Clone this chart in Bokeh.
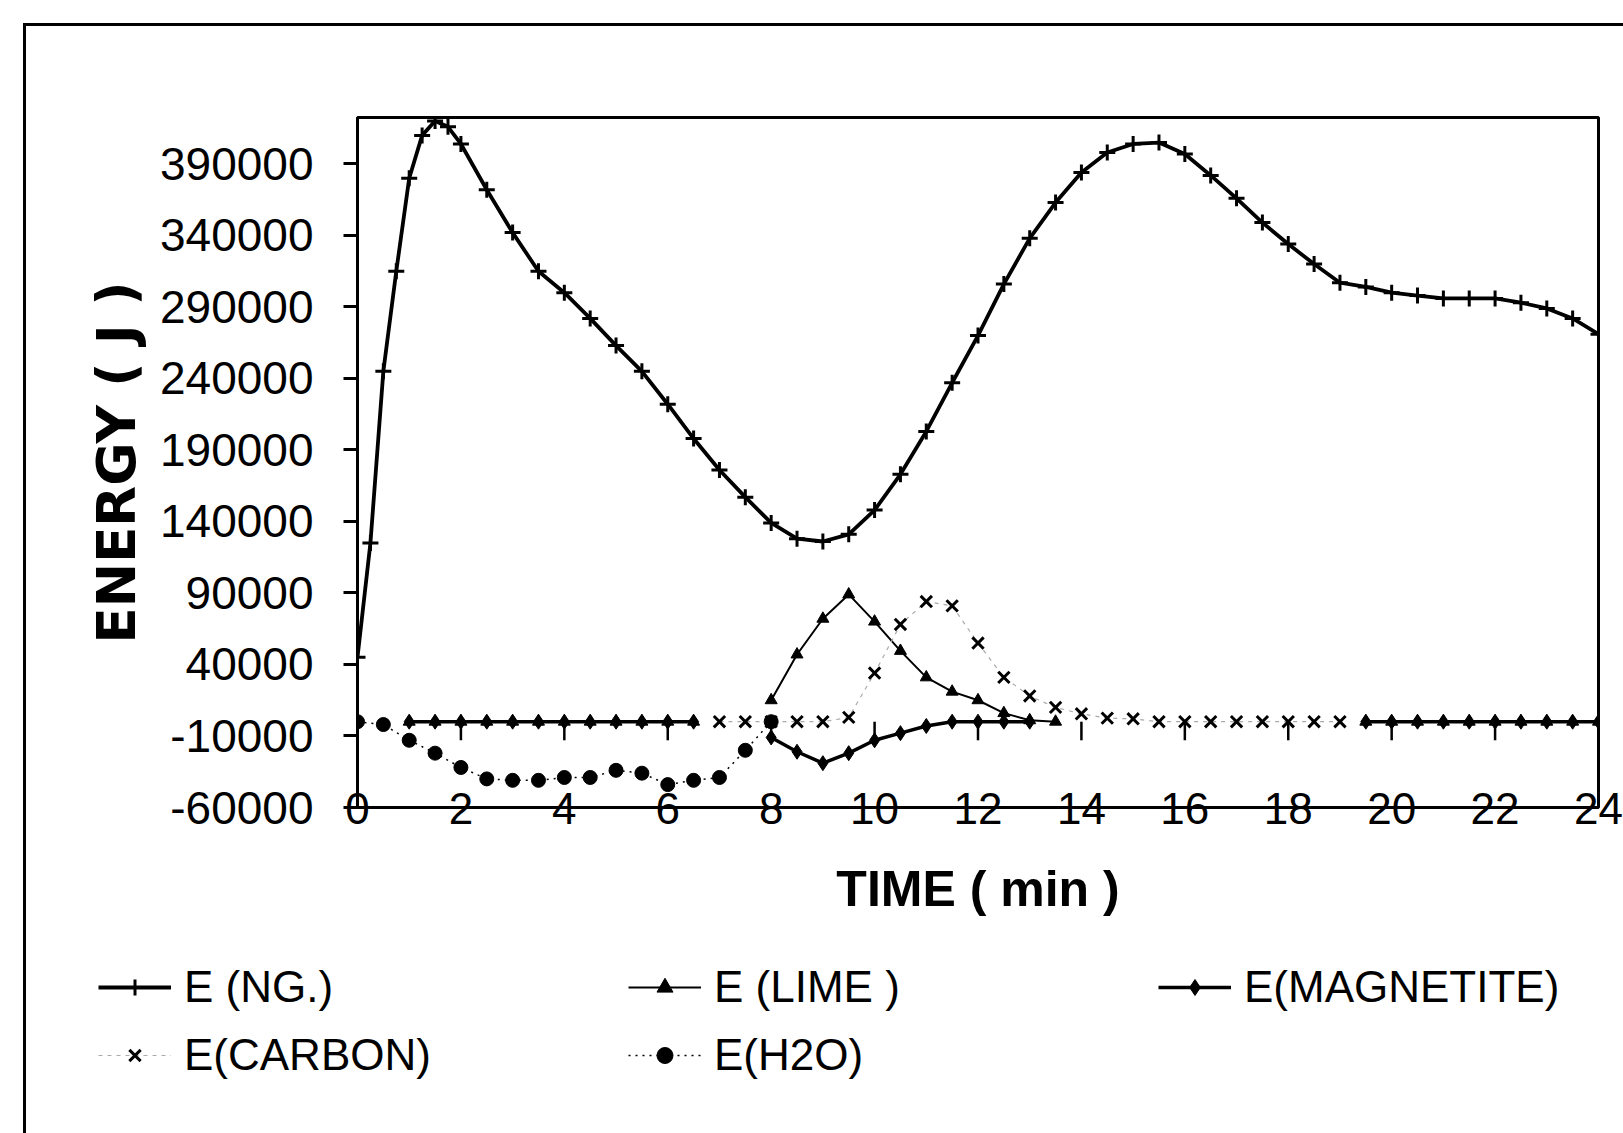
from bokeh.plotting import figure
from bokeh.layouts import column
from bokeh.models import Range1d, FixedTicker, NumeralTickFormatter, Legend, LegendItem
from bokeh.embed import file_html
from bokeh.resources import INLINE

nan = float("nan")

# ---------------- data ----------------
ng_time = [0, 0.25, 0.5, 0.75, 1.0, 1.25, 1.5, 1.75, 2.0, 2.5, 3.0, 3.5, 4.0, 4.5, 5.0, 5.5,
           6.0, 6.5, 7.0, 7.5, 8.0, 8.5, 9.0, 9.5, 10.0, 10.5, 11.0, 11.5, 12.0, 12.5,
           13.0, 13.5, 14.0, 14.5, 15.0, 15.5, 16.0, 16.5, 17.0, 17.5, 18.0, 18.5, 19.0,
           19.5, 20.0, 20.5, 21.0, 21.5, 22.0, 22.5, 23.0, 23.5, 24.0]
e_ng = [45000, 125000, 245000, 315000, 380000, 410000, 420000, 416000, 404000, 372000,
        342000, 315000, 300000, 282000, 263000, 245000, 222000, 198000, 176000, 157000,
        139000, 128000, 126000, 131000, 148000, 173000, 203000, 237000, 270000, 306000,
        338000, 363000, 384000, 398000, 404000, 405000, 397000, 382000, 366000, 349000,
        334000, 320000, 307000, 304000, 300000, 298000, 296000, 296000, 296000, 293000,
        289000, 282000, 271000]

time = [0, 0.5, 1.0, 1.5, 2.0, 2.5, 3.0, 3.5, 4.0, 4.5, 5.0, 5.5, 6.0, 6.5, 7.0, 7.5,
        8.0, 8.5, 9.0, 9.5, 10.0, 10.5, 11.0, 11.5, 12.0, 12.5, 13.0, 13.5, 14.0, 14.5,
        15.0, 15.5, 16.0, 16.5, 17.0, 17.5, 18.0, 18.5, 19.0, 19.5, 20.0, 20.5, 21.0,
        21.5, 22.0, 22.5, 23.0, 23.5, 24.0]

e_lime = [nan, nan, 0, 0, 0, 0, 0, 0, 0, 0, 0, 0, 0, 0, nan, nan,
          15000, 47000, 72000, 89000, 70000, 49500, 31000, 21000, 15000, 6000, 1000, 0,
          nan, nan, nan, nan, nan, nan, nan, nan, nan, nan, nan,
          0, 0, 0, 0, 0, 0, 0, 0, 0, 0]

e_magnetite = [nan, nan, 0, 0, 0, 0, 0, 0, 0, 0, 0, 0, 0, 0, nan, nan,
               -11000, -21000, -29000, -22000, -13000, -8000, -3000, 0, 0, 0, 0, nan,
               nan, nan, nan, nan, nan, nan, nan, nan, nan, nan, nan,
               0, 0, 0, 0, 0, 0, 0, 0, 0, 0]

e_carbon = [nan, nan, nan, nan, nan, nan, nan, nan, nan, nan, nan, nan, nan, nan,
            0, 0, 0, 0, 0, 3000, 34000, 68000, 84000, 81000, 55000, 31000, 18000, 10000,
            5500, 2500, 2000, 0, 0, 0, 0, 0, 0, 0, 0,
            nan, nan, nan, nan, nan, nan, nan, nan, nan, nan]

e_h2o = [0, -2000, -13000, -22000, -32000, -40000, -41000, -41000, -39000, -39000,
         -34000, -36000, -44000, -41000, -39000, -20000, 0,
         nan, nan, nan, nan, nan, nan, nan, nan, nan, nan, nan, nan, nan, nan, nan,
         nan, nan, nan, nan, nan, nan, nan, nan, nan, nan, nan, nan, nan, nan, nan, nan, nan]

xticks = [0, 2, 4, 6, 8, 10, 12, 14, 16, 18, 20, 22, 24]
yticks = [-60000, -10000, 40000, 90000, 140000, 190000, 240000, 290000, 340000, 390000]

labels = ["E (NG.)", "E (LIME )", "E(MAGNETITE)", "E(CARBON)", "E(H2O)"]

# ---------------- styles ----------------
SANS = "Liberation Sans"
line_styles = [
    dict(line_color="black", line_width=3.8),
    dict(line_color="black", line_width=2),
    dict(line_color="black", line_width=3.5),
    dict(line_color="#aaaaaa", line_width=1.2, line_dash="4 5"),
    dict(line_color="black", line_width=1.5, line_dash="2 5"),
]
marker_styles = [
    dict(marker="cross", size=16, line_color="black", line_width=3),
    dict(marker="triangle", size=12, fill_color="black", line_color="black"),
    dict(marker="diamond", size=15, fill_color="black", line_color="black"),
    dict(marker="x", size=16, line_color="black", line_width=3),
    dict(marker="circle", size=14, fill_color="black", line_color="black"),
]

# ---------------- main figure ----------------
W = 1623
H_MAIN = 940
H_LEG = 1133 - H_MAIN
FRAME_H = 690

p = figure(width=W, height=H_MAIN, output_backend="svg", toolbar_location=None,
           x_range=Range1d(0, 24), y_range=Range1d(-60000, 422500),
           min_border_left=357, min_border_right=25, min_border_top=117,
           min_border_bottom=H_MAIN - 117 - FRAME_H)
p.frame_align = False

p.background_fill_color = "white"
p.border_fill_alpha = 0
p.outline_line_color = "black"
p.outline_line_width = 3
p.xgrid.visible = False
p.ygrid.visible = False

# y axis
p.yaxis.ticker = FixedTicker(ticks=yticks)
p.yaxis.formatter = NumeralTickFormatter(format="0")
p.yaxis.axis_line_color = "black"
p.yaxis.axis_line_width = 3
p.yaxis.major_tick_out = 14
p.yaxis.major_tick_in = 0
p.yaxis.major_tick_line_width = 3
p.yaxis.minor_tick_line_color = None
p.yaxis.major_label_text_font = SANS
p.yaxis.major_label_text_font_size = "46px"
p.yaxis.major_label_text_color = "black"
p.yaxis.major_label_standoff = 30
p.yaxis.axis_label = "ENERGY ( J )"
p.yaxis.axis_label_text_font = "DejaVu Sans"
p.yaxis.axis_label_text_font_style = "bold"
p.yaxis.axis_label_text_font_size = "53px"
p.yaxis.axis_label_text_color = "black"
p.yaxis.axis_label_standoff = 10

# x axis (labels straddle the bottom border like the original)
p.xaxis.ticker = FixedTicker(ticks=xticks)
p.xaxis.axis_line_color = None
p.xaxis.major_tick_out = 0
p.xaxis.major_tick_in = 0
p.xaxis.minor_tick_line_color = None
p.xaxis.major_label_text_font = SANS
p.xaxis.major_label_text_font_size = "44px"
p.xaxis.major_label_text_color = "black"
p.xaxis.major_label_standoff = -15
p.xaxis.axis_label = "TIME ( min )"
p.xaxis.axis_label_text_font = SANS
p.xaxis.axis_label_text_font_style = "bold"
p.xaxis.axis_label_text_font_size = "50px"
p.xaxis.axis_label_text_color = "black"
p.xaxis.axis_label_standoff = 34

# horizontal axis crossing at zero: tick marks hanging from y = 0
p.segment(x0=xticks, y0=[0] * len(xticks), x1=xticks, y1=[-13000] * len(xticks),
          line_color="black", line_width=2.5)

# ---------------- series ----------------
series = [(ng_time, e_ng), (time, e_lime), (time, e_magnetite), (time, e_carbon), (time, e_h2o)]
for (tx, vy), ls, ms in zip(series, line_styles, marker_styles):
    p.line(tx, vy, **ls)
    p.scatter(tx, vy, **ms)

# ---------------- legend strip below ----------------
# same series drawn again, but outside this strip's ranges: they only feed the legend
pl = figure(width=W, height=H_LEG, output_backend="svg", toolbar_location=None,
            x_range=Range1d(1000, 1001), y_range=Range1d(1e9, 1e9 + 1),
            min_border_left=0, min_border_right=0, min_border_top=0, min_border_bottom=0)
pl.frame_align = False
pl.axis.visible = False
pl.xgrid.visible = False
pl.ygrid.visible = False
pl.outline_line_color = None
pl.background_fill_alpha = 0
pl.border_fill_alpha = 0

items = []
for lab, (tx, vy), ls, ms in zip(labels, series, line_styles, marker_styles):
    rl = pl.line(tx, vy, **ls)
    rm = pl.scatter(tx, vy, **ms)
    items.append(LegendItem(label=lab, renderers=[rl, rm]))

legend = Legend(items=items, location=(98, 53), orientation="horizontal", ncols=3)
legend.label_text_font = SANS
legend.label_text_font_size = "44px"
legend.label_text_color = "black"
legend.glyph_width = 73
legend.glyph_height = 40
legend.label_height = 40
legend.label_width = 426
legend.label_standoff = 13
legend.spacing = 18
legend.padding = 0
legend.margin = 0
legend.border_line_color = None
legend.background_fill_alpha = 0
pl.add_layout(legend, "center")

# outer chart-area frame (only its top and left edges fall inside the picture)
layout = column(p, pl, spacing=0, styles={
    "background": "linear-gradient(#000, #000) 23px 23px / 3000px 3px no-repeat, "
                  "linear-gradient(#000, #000) 23px 23px / 3px 3000px no-repeat, #fff"})

open("out.html", "w").write(file_html(layout, INLINE))
